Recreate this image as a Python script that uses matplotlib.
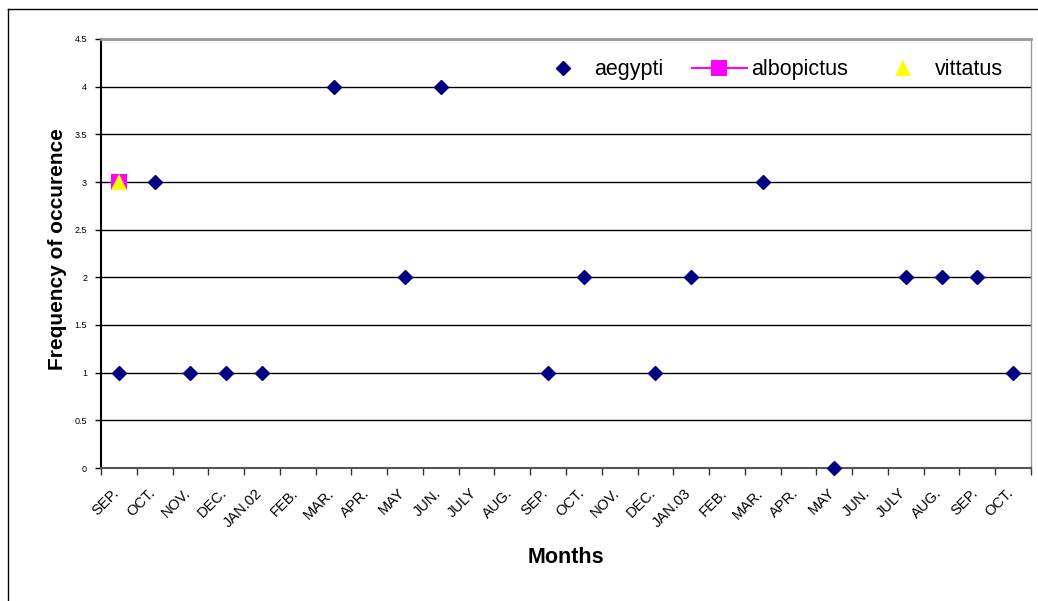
import matplotlib.pyplot as plt
from matplotlib.lines import Line2D
from matplotlib.transforms import ScaledTranslation

months = ["SEP.", "OCT.", "NOV.", "DEC.", "JAN.02", "FEB.", "MAR.", "APR.",
          "MAY", "JUN.", "JULY", "AUG.", "SEP.", "OCT.", "NOV.", "DEC.",
          "JAN.03", "FEB.", "MAR.", "APR.", "MAY", "JUN.", "JULY", "AUG.",
          "SEP.", "OCT."]

# None = no record for that month
aegypti = [1, 3, 1, 1, 1, None, 4, None, 2, 4, None, None, 1, 2, None, 1,
           2, None, 3, None, 0, None, 2, 2, 2, 1]
albopictus = [3] + [None] * 25
vittatus = [3] + [None] * 25

plt.rcParams['font.family'] = ['Liberation Sans', 'DejaVu Sans']

fig = plt.figure(figsize=(10.38, 6.01), dpi=100)
ax = fig.add_axes([101 / 1038, 1 - 468 / 601, 930 / 1038, 429 / 601])

x = list(range(len(months)))

def pts(vals):
    xs = [i for i, v in zip(x, vals) if v is not None]
    ys = [v for v in vals if v is not None]
    return xs, ys

xa, ya = pts(aegypti)
xb, yb = pts(albopictus)
xv, yv = pts(vittatus)

ax.plot(xa, ya, linestyle="none", marker="D", markersize=7.3,
        color="#000080", clip_on=False, zorder=5, label="aegypti")
ax.plot(xb, yb, linestyle="-", color="#ff00ff", marker="s", markersize=11,
        markeredgewidth=0, clip_on=False, zorder=5, label="albopictus")
ax.plot(xv, yv, linestyle="none", marker="^", markersize=11,
        markeredgewidth=0, color="#ffff00", clip_on=False, zorder=6,
        label="vittatus")

ax.set_xlim(-0.5, len(months) - 0.5)
ax.set_ylim(0, 4.5)
ax.set_yticks([0, 0.5, 1, 1.5, 2, 2.5, 3, 3.5, 4, 4.5])
ax.set_yticklabels(["0", "0.5", "1", "1.5", "2", "2.5", "3", "3.5", "4", "4.5"],
                   fontsize=6.5)
ax.yaxis.grid(True, color="black", linewidth=1)
ax.set_axisbelow(True)

ax.set_xticks([i - 0.5 for i in range(len(months) + 1)], minor=False)
ax.set_xticklabels([])
ax.set_xticks(x, minor=True)
ax.set_xticklabels(months, minor=True, rotation=45, ha="right",
                   rotation_mode="anchor", fontsize=10.5)
ax.tick_params(axis="x", which="minor", length=0, pad=13)
ax.tick_params(axis="x", which="major", length=5, width=1, color="#333333")
ax.tick_params(axis="y", length=4, width=1, pad=6)
shift = ScaledTranslation(-7 / 100, 0, fig.dpi_scale_trans)
for lbl in ax.get_xticklabels(minor=True):
    lbl.set_transform(lbl.get_transform() + shift)

ax.spines["left"].set_linewidth(1.5)
ax.spines["left"].set_color("black")
ax.spines["bottom"].set_linewidth(1.5)
ax.spines["bottom"].set_color("#555555")
ax.spines["top"].set_linewidth(2)
ax.spines["top"].set_color("#999999")
ax.spines["right"].set_linewidth(1)
ax.spines["right"].set_color("#999999")

ax.set_xlabel("Months", fontsize=15.5, fontweight="bold")
ax.set_ylabel("Frequency of occurence", fontsize=15, fontweight="bold")
ax.xaxis.set_label_coords(0.50, -0.184)
ax.yaxis.set_label_coords(-0.037, 0.51)

handles = [
    Line2D([], [], linestyle="none", marker="D", markersize=7.3, color="#000080"),
    Line2D([], [], linestyle="-", color="#ff00ff", linewidth=1.5, marker="s",
           markersize=11, markeredgewidth=0),
    Line2D([], [], linestyle="none", marker="^", markersize=11,
           markeredgewidth=0, color="#ffff00"),
]
ax.legend(handles, ["aegypti", "albopictus", "vittatus"], ncol=3,
          frameon=False, loc="upper right", bbox_to_anchor=(0.970, 0.953),
          borderpad=0, borderaxespad=0,
          fontsize=15.5, handlelength=2.55, columnspacing=1.3,
          handletextpad=0.2)

# outer chart-area frame
fig.add_artist(Line2D([8 / 1038, 8 / 1038], [0, 1 - 9 / 601], color="black",
                      linewidth=1, transform=fig.transFigure))
fig.add_artist(Line2D([8 / 1038, 1], [1 - 9 / 601, 1 - 9 / 601], color="black",
                      linewidth=1, transform=fig.transFigure))

fig.savefig("out.png", dpi=100)
